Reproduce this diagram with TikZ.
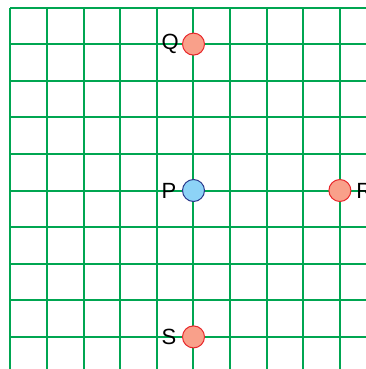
\documentclass[tikz,border=0pt]{standalone}
\usepackage{fontspec}
\setmainfont{Liberation Sans}
\definecolor{gridgreen}{HTML}{00A651}
\definecolor{salmonfill}{HTML}{F9A08A}
\definecolor{redstroke}{HTML}{E8262A}
\definecolor{bluefill}{HTML}{8DD3F7}
\definecolor{bluestroke}{HTML}{2B3A8C}
\begin{document}
\begin{tikzpicture}[x=0.75pt,y=-0.75pt,
  gridline/.style={draw=gridgreen,line width=1.5pt},
  redpt/.style={circle,draw=redstroke,fill=salmonfill,line width=0.75pt,minimum size=16.5pt,inner sep=0pt},
  bluept/.style={circle,draw=bluestroke,fill=bluefill,line width=0.75pt,minimum size=16.5pt,inner sep=0pt},
  lbl/.style={font=\fontsize{16.5pt}{18pt}\selectfont,inner sep=0pt}]
\useasboundingbox (0,0) rectangle (366,369);
\clip (0,0) rectangle (366,369);
\foreach \k in {0,...,9} {
  \draw[gridline] ({10.5+36.6*\k},7.5) -- ({10.5+36.6*\k},375);
  \draw[gridline] (10.5,{7.5+36.6*\k}) -- (375,{7.5+36.6*\k});
}
\node[redpt] (Q) at (193.5,44.1) {};
\node[bluept] (P) at (193.5,190.5) {};
\node[redpt] (R) at (339.9,190.5) {};
\node[redpt] (S) at (193.5,336.9) {};
\node[lbl,anchor=east] (lQ) at ([xshift=-2.2pt]Q.west) {Q};
\node[lbl,anchor=east] (lP) at ([xshift=-4pt]P.west) {P};
\node[lbl,anchor=west] (lR) at ([xshift=3.5pt]R.east) {R};
\node[lbl,anchor=east] (lS) at ([xshift=-4pt]S.west) {S};
\end{tikzpicture}
\end{document}
